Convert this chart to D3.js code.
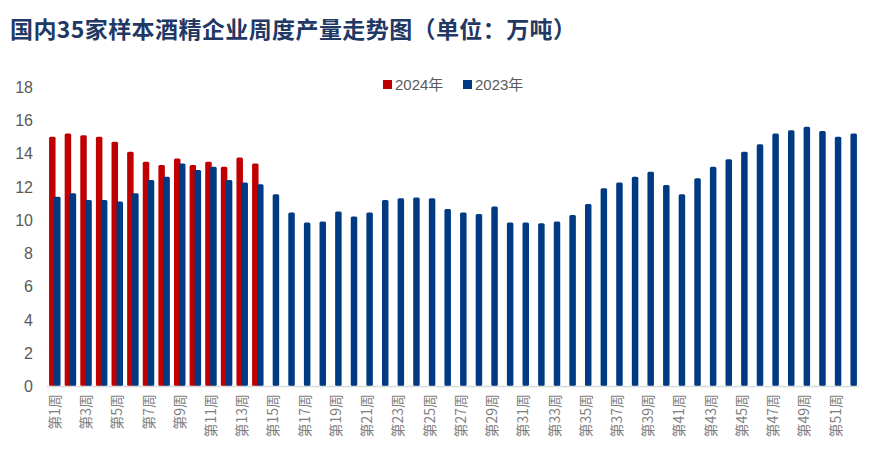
<!DOCTYPE html>
<html><head><meta charset="utf-8">
<script src="https://cdn.jsdelivr.net/npm/d3@7"></script>
<style>body{margin:0;background:#fff}</style></head>
<body><svg id="c" width="886" height="472"></svg>
<script>
const weeks = d3.range(1,53).map(i=>"第"+i+"周");
const s2024 = [15.0,15.2,15.1,15.0,14.7,14.1,13.5,13.3,13.7,13.3,13.5,13.2,13.75,13.4];
const s2023 = [11.4,11.6,11.2,11.2,11.1,11.6,12.4,12.6,13.4,13.0,13.2,12.4,12.25,12.15,11.55,10.45,9.85,9.9,10.5,10.2,10.45,11.2,11.3,11.35,11.3,10.65,10.45,10.35,10.8,9.85,9.85,9.8,9.9,10.3,10.95,11.9,12.25,12.6,12.9,12.1,11.55,12.5,13.2,13.65,14.1,14.55,15.2,15.4,15.6,15.35,15.0,15.2];
const yTicks = [0,2,4,6,8,10,12,14,16,18];
const seriesNames = ["2024年","2023年"];
const colors = ["#C00000","#003A82"];

const svg = d3.select("#c");
const font = "'Noto Sans CJK SC', 'Noto Sans', sans-serif";
svg.append("text").attr("x",10).attr("y",38).attr("font-family",font).attr("font-weight","bold")
  .attr("font-size",23).attr("fill","#1F3864").attr("textLength",566).text("国内35家样本酒精企业周度产量走势图（单位：万吨）");

const x = d3.scaleBand().domain(weeks).range([47,859]);
const y = d3.scaleLinear().domain([0,18]).range([386,87]);
const bw = 6.5;

svg.append("g").selectAll("text").data(yTicks).join("text")
  .attr("x",33).attr("y",d=>y(d)+6).attr("text-anchor","end")
  .attr("font-family","Arial, 'Liberation Sans', sans-serif").attr("font-size",16).attr("fill","#595959").text(d=>d);

function bars(data,color,off){
  svg.append("g").selectAll("rect").data(data).join("rect")
    .attr("x",(d,i)=>x(weeks[i])+x.bandwidth()/2+off-bw/2).attr("width",bw)
    .attr("y",d=>y(d)).attr("height",d=>y(0)-y(d)).attr("rx",1.5).attr("fill",color);
}
bars(s2024,colors[0],-2.5);
bars(s2023,colors[1],2.5);

svg.append("line").attr("x1",47).attr("x2",859).attr("y1",386.5).attr("y2",386.5).attr("stroke","#D9D9D9").attr("stroke-width",1.5);

svg.append("g").selectAll("text").data(weeks.filter((d,i)=>i%2==0)).join("text")
  .attr("transform",d=>`translate(${x(d)+x.bandwidth()/2+5},${394}) rotate(-90)`)
  .attr("text-anchor","end").attr("font-family",font).attr("font-size",14).attr("fill","#7F7F7F").text(d=>d);

const lg = svg.append("g").attr("transform","translate(383,86)");
seriesNames.forEach((n,i)=>{
  const g = lg.append("g").attr("transform",`translate(${i*80},0)`);
  g.append("rect").attr("x",0).attr("y",-6).attr("width",9).attr("height",9).attr("fill",colors[i]);
  g.append("text").attr("x",12).attr("y",4).attr("font-family","Arial, 'Liberation Sans', "+font).attr("font-size",15).attr("fill","#595959").text(n);
});
</script></body></html>
